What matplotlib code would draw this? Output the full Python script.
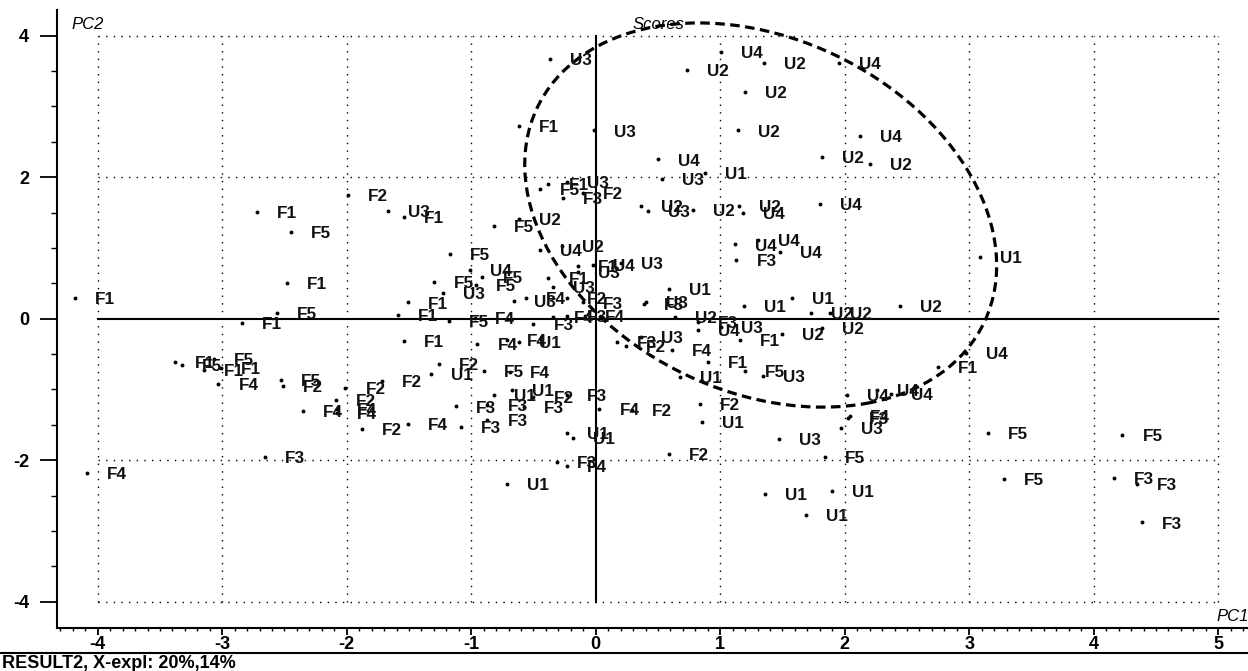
import matplotlib
matplotlib.use("Agg")
import matplotlib.pyplot as plt
from matplotlib.patches import Ellipse
from matplotlib.lines import Line2D
from matplotlib.ticker import MultipleLocator

plt.rcParams['font.family'] = ['Liberation Sans', 'DejaVu Sans']

# PCA scores (PC1, PC2) per sample group
f1_pc1 = [-2.72, -2.48, -4.18, -2.84, -3.38, -3.15, -3.01, -0.62, -0.38, -1.54,
          -1.51, -1.59, -0.38, -0.14, -1.54, 1.16, 0.90, 2.75]
f1_pc2 = [1.51, 0.50, 0.29, -0.06, -0.61, -0.73, -0.70, 2.72, 1.90, 1.44,
          0.23, 0.05, 0.57, 0.74, -0.31, -0.30, -0.61, -0.68]

f2_pc1 = [-2.51, -2.01, -2.09, -1.99, -0.10, -1.26, -1.72, -0.50, -1.88, 0.29,
          0.84, 0.59, -0.23, 0.24]
f2_pc2 = [-0.95, -0.98, -1.15, 1.75, 1.78, -0.64, -0.88, -1.11, -1.56, -1.29,
          -1.20, -1.91, 0.29, -0.39]

f3_pc1 = [-2.66, -0.26, 1.13, 0.39, 0.82, 0.17, -0.50, -0.23, -1.12, -0.87,
          -0.87, -1.08, -0.58, -0.23, -0.31, 2.03, 4.16, 4.35, 4.39, -0.10]
f3_pc2 = [-1.95, 1.71, 0.83, 0.21, -0.05, -0.33, -0.07, 0.04, -1.24, -1.22,
          -1.43, -1.53, -1.25, -1.08, -2.02, -1.40, -2.25, -2.34, -2.88, 0.23]

f4_pc1 = [-3.03, -2.35, -2.08, -2.08, -4.09, -1.51, -0.95, -0.71, -0.69, -0.97,
          -0.56, -0.34, 0.03, -0.23, 0.61, 2.04, -0.09]
f4_pc2 = [-0.92, -1.31, -1.28, -1.33, -2.18, -1.49, -0.36, -0.30, -0.75, 0.01,
          0.29, 0.02, -1.28, -2.08, -0.44, -1.38, 0.04]

f5_pc1 = [-2.45, -2.56, -3.32, -3.07, -2.53, -0.45, -0.82, -1.17, -1.30, -0.91,
          -0.96, -1.18, -0.90, 1.20, 1.84, 3.15, 4.23, 3.28]
f5_pc2 = [1.22, 0.08, -0.66, -0.57, -0.86, 1.84, 1.31, 0.92, 0.52, 0.59,
          0.48, -0.03, -0.74, -0.74, -1.96, -1.61, -1.64, -2.26]

u1_pc1 = [0.88, 0.59, 1.19, 1.58, 3.09, -0.62, -1.32, -0.82, -0.67, 0.68,
          0.85, -0.23, -0.18, -0.71, 1.36, 1.90, 1.69]
u1_pc2 = [2.06, 0.42, 0.18, 0.29, 0.87, -0.33, -0.78, -1.08, -1.01, -0.82,
          -1.46, -1.61, -1.68, -2.34, -2.48, -2.44, -2.77]

u2_pc1 = [0.73, 1.35, 1.20, 1.14, 1.82, 2.20, 0.36, 0.78, 1.15, -0.62,
          -0.27, 0.64, 1.73, 1.88, 2.44, 1.82, 1.50]
u2_pc2 = [3.52, 3.62, 3.21, 2.66, 2.29, 2.19, 1.59, 1.54, 1.59, 1.41,
          1.03, 0.02, 0.08, 0.08, 0.18, -0.13, -0.22]

u3_pc1 = [-0.37, -0.01, -0.23, 0.53, 0.42, -1.67, -1.23, -0.34, -0.66, -0.14,
          0.20, 0.40, 1.01, 0.36, 1.34, 1.47, 1.97]
u3_pc2 = [3.67, 2.66, 1.93, 1.97, 1.52, 1.52, 0.36, 0.45, 0.25, 0.66,
          0.79, 0.24, -0.12, -0.26, -0.81, -1.70, -1.54]

u4_pc1 = [1.01, 1.95, 2.12, 0.50, 1.18, 1.80, 1.12, 1.30, 1.48, -0.45,
          -1.01, -0.02, 0.82, 2.97, 2.02, 2.26, 2.37]
u4_pc2 = [3.77, 3.61, 2.58, 2.25, 1.49, 1.62, 1.05, 1.11, 0.94, 0.97,
          0.69, 0.76, -0.16, -0.49, -1.08, -1.01, -1.06]

groups = [("F1", f1_pc1, f1_pc2), ("F2", f2_pc1, f2_pc2), ("F3", f3_pc1, f3_pc2),
          ("F4", f4_pc1, f4_pc2), ("F5", f5_pc1, f5_pc2), ("U1", u1_pc1, u1_pc2),
          ("U2", u2_pc1, u2_pc2), ("U3", u3_pc1, u3_pc2), ("U4", u4_pc1, u4_pc2)]

x_ticks = [-4, -3, -2, -1, 0, 1, 2, 3, 4, 5]
y_ticks = [-4, -2, 0, 2, 4]

fig = plt.figure(figsize=(12.48, 6.71), dpi=100)
ax = fig.add_axes([57 / 1248, 1 - 628 / 671, 1 - 57 / 1248, 618 / 671])
ax.set_xlim(-4.327, 5.239)
ax.set_ylim(-4.372, 4.363)

# dotted grid inside the -4..5 / -4..4 box, solid lines through the origin
dot = dict(color='black', lw=1.0, linestyle=(0, (1, 4.5)), zorder=1)
for xv in x_ticks:
    if xv != 0:
        ax.plot([xv, xv], [-4, 4], **dot)
for yv in y_ticks:
    if yv != 0:
        ax.plot([-4, 5], [yv, yv], **dot)
ax.plot([0, 0], [-4, 4], color='black', lw=1.5, zorder=2)
ax.plot([-4, 5], [0, 0], color='black', lw=1.5, zorder=2)

# confidence ellipse
ell = Ellipse((1.325, 1.465), width=3.554, height=5.588, angle=17.8,
              fill=False, edgecolor='black', lw=2.3, linestyle=(0, (3, 1.7)), zorder=3)
ax.add_patch(ell)

for name, xs, ys in groups:
    ax.plot(xs, ys, 'o', color='black', ms=1.8, zorder=4)
    for x, y in zip(xs, ys):
        ax.annotate(name, (x, y), xytext=(14.4, -4.4), textcoords='offset points',
                    ha='left', va='baseline', fontsize=12.3, fontweight='bold',
                    color='#111111', zorder=5)

for side in ['top', 'right']:
    ax.spines[side].set_visible(False)
for side in ['left', 'bottom']:
    ax.spines[side].set_linewidth(1.5)

ax.set_xticks(x_ticks)
ax.set_xticklabels([str(v) for v in x_ticks], fontweight='bold', fontsize=13)
ax.set_yticks(y_ticks)
ax.set_yticklabels([str(v) for v in y_ticks], fontweight='bold', fontsize=13)
ax.xaxis.set_minor_locator(MultipleLocator(0.1))
ax.yaxis.set_minor_locator(MultipleLocator(0.5))
ax.tick_params(axis='x', which='major', direction='out', length=5, width=1.3, pad=1)
ax.tick_params(axis='x', which='minor', direction='out', length=2, width=1.0)
ax.tick_params(axis='y', which='major', direction='out', length=12, width=1.3, pad=8)
ax.tick_params(axis='y', which='minor', direction='out', length=4.5, width=1.0)

ax.text(0.026, 0.976, "PC2", transform=ax.transAxes, ha='center', va='center',
        fontsize=12, fontstyle='italic')
ax.text(0.987, 0.018, "PC1", transform=ax.transAxes, ha='center', va='center',
        fontsize=12, fontstyle='italic')
ax.text(0.505, 0.976, "Scores", transform=ax.transAxes, ha='center', va='center',
        fontsize=12, fontstyle='italic')

fig.add_artist(Line2D([0, 1], [1 - 653 / 671, 1 - 653 / 671], color='black', lw=1.5,
                      transform=fig.transFigure))
fig.text(0.002, 1 - 668 / 671, "RESULT2, X-expl: 20%,14%", ha='left', va='baseline',
         fontsize=13, fontweight='bold')

fig.savefig("out.png", dpi=100)
